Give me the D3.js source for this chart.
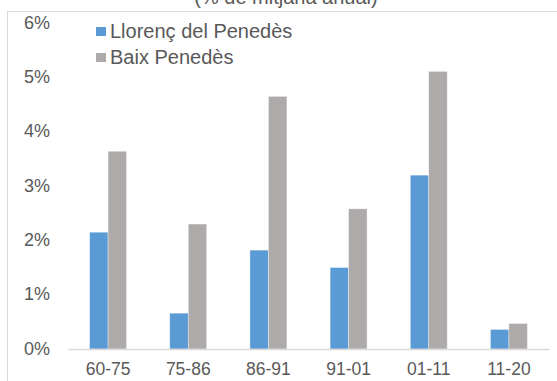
<!DOCTYPE html>
<html><head><meta charset="utf-8">
<script src="https://cdn.jsdelivr.net/npm/d3@7"></script>
<style>body{margin:0;background:#fff}svg{display:block;font-family:"Liberation Sans",Arial,sans-serif}</style>
</head><body>
<svg id="c" width="557" height="381"></svg>
<script>
const categories = ["60-75","75-86","86-91","91-01","01-11","11-20"];
const seriesNames = ["Llorenç del Penedès","Baix Penedès"];
const llorenc = [2.15,0.66,1.82,1.50,3.20,0.36];
const baix = [3.64,2.30,4.65,2.58,5.11,0.47];
const yTicks = [0,1,2,3,4,5,6];
const title = "(% de mitjana anual)";
const colors = ["#5b9bd5","#aeaaaa"];

const svg = d3.select("#c");
const x0 = d3.scaleBand().domain(categories).range([68,549]).paddingInner(0).paddingOuter(0);
const x1 = d3.scaleBand().domain(seriesNames).range([0,x0.bandwidth()]).paddingInner(0).paddingOuter(1.17);
const y = d3.scaleLinear().domain([0,6]).range([349,23]);

// outer border
svg.append("rect").attr("x",7.5).attr("y",11.5).attr("width",560).attr("height",380)
  .attr("fill","none").attr("stroke","#d9d9d9").attr("stroke-width",1);

// title (cut off at top, as in the reference)
svg.append("text").attr("x",286).attr("y",3.5).attr("text-anchor","middle")
  .attr("font-size",20).attr("fill","#595959").text(title);

const rows = categories.map((c,i)=>({c, vals:[llorenc[i],baix[i]]}));
const g = svg.append("g");
rows.forEach(r=>{
  r.vals.forEach((v,j)=>{
    g.append("rect").attr("x",x0(r.c)+x1(seriesNames[j])).attr("y",y(v))
      .attr("width",x1.bandwidth()).attr("height",y(0)-y(v))
      .attr("fill",colors[j]).attr("stroke","#ffffff").attr("stroke-width",0.6).attr("stroke-opacity",0.6);
  });
});

// baseline axis
const xAxis = d3.axisBottom(x0).tickSize(0).tickPadding(14);
const ax = svg.append("g").attr("transform",`translate(0,${y(0)})`).call(xAxis);
ax.select(".domain").attr("stroke","#d9d9d9").attr("stroke-width",1.5);
ax.selectAll("text").attr("font-size",17.5).attr("fill","#595959").attr("font-family","Liberation Sans, Arial, sans-serif");

// y axis labels
const yAxis = d3.axisLeft(y).tickValues(yTicks).tickFormat(d=>d+"%").tickSize(0).tickPadding(0);
const ay = svg.append("g").attr("transform","translate(50,0)").call(yAxis);
ay.select(".domain").remove();
ay.selectAll("text").attr("font-size",18).attr("fill","#595959").attr("font-family","Liberation Sans, Arial, sans-serif").attr("dy","0.28em");

// legend
const leg = svg.append("g");
seriesNames.forEach((n,i)=>{
  const yy = 37.5 + i*26;
  leg.append("rect").attr("x",96).attr("y",yy-10.5).attr("width",10).attr("height",9).attr("fill",colors[i]);
  leg.append("text").attr("x",110).attr("y",yy).attr("font-size",20).attr("fill","#595959").text(n);
});
</script>
</body></html>
